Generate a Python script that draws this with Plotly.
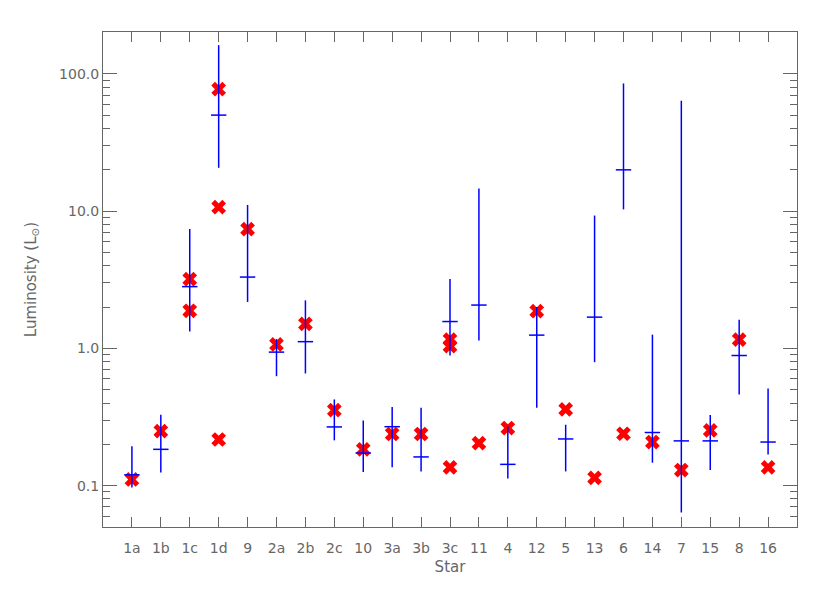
import numpy as np
import plotly.graph_objects as go

# star labels along the x axis
stars = ['1a', '1b', '1c', '1d', '9', '2a', '2b', '2c', '10', '3a', '3b', '3c',
         '11', '4', '12', '5', '13', '6', '14', '7', '15', '8', '16']

# blue crosses: central luminosity and lower / upper ends of the range
lum_mid = [0.120, 0.184, 2.82, 50.1, 3.31, 0.94, 1.12, 0.268, 0.173, 0.269, 0.162, 1.57,
           2.07, 0.143, 1.25, 0.219, 1.69, 20.0, 0.244, 0.212, 0.212, 0.888, 0.208]
lum_lo = [0.097, 0.125, 1.33, 20.7, 2.18, 0.628, 0.657, 0.214, 0.126, 0.136, 0.127, 0.888,
          1.14, 0.113, 0.370, 0.127, 0.794, 10.3, 0.147, 0.0638, 0.130, 0.462, 0.169]
lum_hi = [0.194, 0.329, 7.4, 162.0, 11.1, 1.17, 2.24, 0.425, 0.299, 0.374, 0.370, 3.2,
          14.6, 0.27, 2.0, 0.278, 9.29, 85.2, 1.26, 63.7, 0.327, 1.62, 0.511]

# red asterisks (some stars carry more than one estimate)
red_star = ['1a', '1b', '1c', '1c', '1d', '1d', '1d', '9', '2a', '2b', '2c', '10', '3a', '3b',
            '3c', '3c', '3c', '11', '4', '12', '5', '13', '6', '14', '7', '15', '8', '16']
red_lum = [0.111, 0.250, 3.2, 1.88, 77.4, 10.7, 0.217, 7.4, 1.07, 1.51, 0.355, 0.184, 0.238, 0.238,
           1.16, 1.04, 0.136, 0.204, 0.263, 1.87, 0.360, 0.114, 0.239, 0.208, 0.130, 0.253, 1.16, 0.136]

BLUE = '#0000ff'
RED = '#ff0000'
GREY = '#666666'
FONT = 'DejaVu Sans'

mid = np.array(lum_mid)
err_plus = np.array(lum_hi) - mid
err_minus = mid - np.array(lum_lo)

fig = go.Figure()

# red first so the blue bars sit on top, as in the original
fig.add_trace(go.Scatter(
    x=red_star, y=red_lum,
    mode='markers',
    marker=dict(symbol='x', size=13, color=RED, line=dict(width=0)),
    showlegend=False,
))

fig.add_trace(go.Scatter(
    x=stars, y=lum_mid,
    mode='markers',
    marker=dict(symbol='line-ew-open', size=11, color=BLUE, line=dict(color=BLUE, width=1.5)),
    error_y=dict(type='data', symmetric=False, array=err_plus, arrayminus=err_minus,
                 color=BLUE, thickness=1.5, width=0),
    showlegend=False,
))

minor_vals = [m * 10.0 ** e for e in range(-2, 3) for m in range(2, 10)]

fig.update_xaxes(
    type='category',
    categoryorder='array', categoryarray=stars,
    range=[-1, 23],
    showgrid=False, zeroline=False,
    showline=True, linecolor=GREY, linewidth=1, mirror='allticks',
    ticks='inside', ticklen=10, tickcolor=GREY,
    ticklabelstandoff=8,
    tickfont=dict(family=FONT, size=14, color=GREY),
    title=dict(text='Star', font=dict(family=FONT, size=15, color=GREY), standoff=6),
)

fig.update_yaxes(
    type='log',
    range=[np.log10(0.05), np.log10(202)],
    showgrid=False, zeroline=False,
    showline=True, linecolor=GREY, linewidth=1, mirror='allticks',
    tickmode='array', tickvals=[0.1, 1, 10, 100], ticktext=['0.1', '1.0', '10.0', '100.0'],
    ticks='inside', ticklen=14, tickcolor=GREY,
    tickfont=dict(family=FONT, size=14, color=GREY),
    minor=dict(tickmode='array', tickvals=minor_vals, ticks='inside', ticklen=7,
               tickcolor=GREY, showgrid=False),
    title=dict(text='Luminosity (L<sub>⊙</sub>)', font=dict(family=FONT, size=15, color=GREY),
               standoff=18),
)

# page body adds an 8px margin, so the figure is a little smaller than the window
fig.update_layout(
    width=814, height=577,
    margin=dict(l=95, r=25, t=24, b=58),
    paper_bgcolor='white', plot_bgcolor='white',
)

fig.write_html("out.html")
